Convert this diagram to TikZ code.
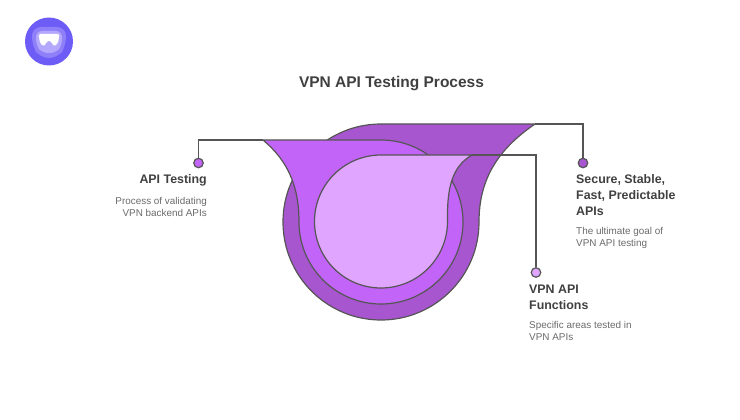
\documentclass[tikz,border=0pt]{standalone}
\usepackage{fontspec}
\setmainfont{Liberation Sans}
\usetikzlibrary{positioning}
\definecolor{outerfill}{HTML}{A855D0}
\definecolor{midfill}{HTML}{C264F7}
\definecolor{innerfill}{HTML}{E0A5FF}
\definecolor{edgegray}{HTML}{555555}
\definecolor{headgray}{HTML}{404040}
\definecolor{descgray}{HTML}{6A6A6A}
\tikzstyle{shell} = [draw=edgegray, line width=1.2pt, line join=round]
\tikzstyle{leader} = [draw=edgegray, line width=1.2pt]
\tikzstyle{dot} = [draw=edgegray, circle, line width=1.2pt, minimum size=9.5pt, inner sep=0pt]
\tikzstyle{heading} = [inner sep=0pt, text=headgray, font=\bfseries\fontsize{12.4}{16}\selectfont]
\tikzstyle{desc} = [inner sep=0pt, text=descgray, font=\fontsize{9.9}{12}\selectfont]
\begin{document}
\begin{tikzpicture}[x=1pt, y=-1pt]
    \useasboundingbox (0,0) rectangle (740,420);
    % Logo
    \fill[color={rgb,255:red,110;green,92;blue,246}] (49,41.5) circle (24);
    \fill[color={rgb,255:red,143;green,128;blue,250}, rounded corners=9pt] (32,27) -- (66,27) -- (66,46) -- (58,58) -- (40,58) -- (32,46) -- cycle;
    \fill[color={rgb,255:red,180;green,168;blue,252}, rounded corners=6pt] (36,31) -- (62,31) -- (62,45) -- (56,53) -- (42,53) -- (36,45) -- cycle;
    \fill[white, rounded corners=1.5pt] (38.5,34) -- (59.5,34) -- (58,43) -- (54,46.5) -- (51,41.5) -- (49,40.5) -- (47,41.5) -- (44,46.5) -- (40,43) -- cycle;
    % Title
    \node[inner sep=0pt, text=headgray, font=\bfseries\fontsize{15.5}{20}\selectfont] (title) at (391.5,84) {VPN API Testing Process};
    % Dots
    \node[dot, fill=midfill] (dotapi) at (198.5,163) {};
    \node[dot, fill=outerfill] (dotgoal) at (583,163) {};
    \node[dot, fill=innerfill] (dotfunc) at (536,272.5) {};
    % Shells
    \coordinate (apitip) at (263,140);
    \coordinate (goaltip) at (535,124);
    \coordinate (functip) at (472,155);
    \path[shell, fill=outerfill] (goaltip) -- (381,124) arc[start angle=-90, end angle=-270, radius=98] -- (381,320)
        arc[start angle=90, end angle=0, radius=98] .. controls (479,180) and (497,150) .. cycle;
    \path[shell, fill=midfill] (apitip) -- (381,140) arc[start angle=-90, end angle=90, radius=82]
        arc[start angle=90, end angle=180, radius=82] .. controls (299,185) and (287,160) .. cycle;
    \path[shell, fill=innerfill] (functip) -- (381,155) arc[start angle=-90, end angle=-270, radius=66.5]
        arc[start angle=90, end angle=0, radius=66.5] .. controls (447,190) and (451,167) .. cycle;
    % Leader lines
    \draw[leader] (dotapi) |- (apitip);
    \draw[leader] (dotgoal) |- (goaltip);
    \draw[leader] (dotfunc) |- (functip);
    % Labels
    \node[heading, anchor=north east, align=right] (apihead) at (207,174) {API Testing};
    \node[desc, below=11pt of apihead.south east, anchor=north east, align=right] (apidesc) {Process of validating\\VPN backend APIs};
    \node[heading, anchor=north west, align=left] (goalhead) at (576,174.5) {Secure, Stable,\\Fast, Predictable\\APIs};
    \node[desc, below=11.5pt of goalhead.south west, anchor=north west, align=left] (goaldesc) {The ultimate goal of\\VPN API testing};
    \node[heading, anchor=north west, align=left] (funchead) at (529,284.5) {VPN API\\Functions};
    \node[desc, below=11.5pt of funchead.south west, anchor=north west, align=left] (funcdesc) {Specific areas tested in\\VPN APIs};
\end{tikzpicture}
\end{document}
